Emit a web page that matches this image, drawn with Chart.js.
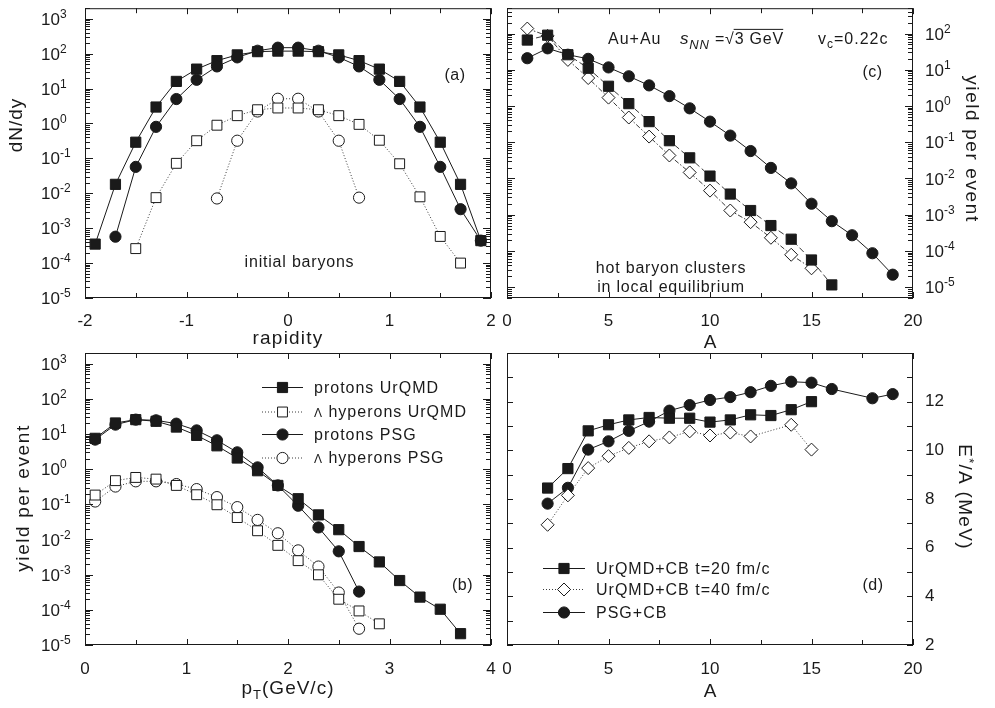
<!DOCTYPE html>
<html>
<head>
<meta charset="utf-8">
<script src="https://cdn.jsdelivr.net/npm/chart.js@4.4.1/dist/chart.umd.min.js"></script>
<style>
html,body{margin:0;padding:0;background:#ffffff;overflow:hidden;}
#wrap{position:relative;width:995px;height:708px;background:#fff;}
#wrap canvas{position:absolute;left:0;top:0;}
</style>
</head>
<body>
<div id="wrap">
<canvas id="pa" width="995" height="708"></canvas>
<canvas id="pc" width="995" height="708"></canvas>
<canvas id="pb" width="995" height="708"></canvas>
<canvas id="pd" width="995" height="708"></canvas>
</div>
<script>
// ---------------- data ----------------
// panel (a): dN/dy vs rapidity
const rapidity = [-1.9,-1.7,-1.5,-1.3,-1.1,-0.9,-0.7,-0.5,-0.3,-0.1,0.1,0.3,0.5,0.7,0.9,1.1,1.3,1.5,1.7,1.9];
const dndyProtonsUrQMD = [3.5e-4,0.018,0.29,2.95,16,36,63,92,114,118,118,114,92,63,36,16,2.95,0.29,0.018,4.4e-4];
const dndyLambdaUrQMD  = [null,null,2.6e-4,7.5e-3,0.072,0.32,0.89,1.67,2.47,2.77,2.77,2.47,1.67,0.94,0.33,0.07,7.9e-3,5.8e-4,1.0e-4,null];
const dndyProtonsPSG   = [null,5.7e-4,0.057,0.8,5,17.8,43,78,121,148,148,121,78,43,17.8,5,0.8,0.057,3.5e-3,4.4e-4];
const dndyLambdaPSG    = [null,null,null,null,null,null,7.1e-3,0.32,2.2,5.1,5.1,2.2,0.32,7.5e-3,null,null,null,null,null,null];

// panel (b): yield per event vs pT
const pt = [0.1,0.3,0.5,0.7,0.9,1.1,1.3,1.5,1.7,1.9,2.1,2.3,2.5,2.7,2.9,3.1,3.3,3.5,3.7];
const ptProtonsUrQMD = [7.5,20.5,25.5,22.9,15.7,9.1,4.6,2.07,0.9,0.344,0.144,0.05,0.019,6.3e-3,2.3e-3,6.8e-4,2.3e-4,1.04e-4,2.1e-5];
const ptLambdaUrQMD  = [0.183,0.47,0.58,0.52,0.344,0.187,0.097,0.042,0.0177,6.8e-3,2.5e-3,9.9e-4,2.0e-4,9.3e-5,4.0e-5,null,null,null,null];
const ptProtonsPSG   = [6.9,18.4,25.5,24.4,19.6,12.6,6.6,3.0,1.12,0.344,0.091,0.022,4.6e-3,3.3e-4,null,null,null,null,null];
const ptLambdaPSG    = [0.12,0.32,0.45,0.45,0.376,0.27,0.16,0.083,0.036,0.015,4.9e-3,1.7e-3,3.1e-4,2.9e-5,null,null,null,null,null];

// panel (c): cluster yield vs A ; panel (d): E*/A vs A
const massNumber   = [1,2,3,4,5,6,7,8,9,10,11,12,13,14,15,16,17,18,19];
const yieldUrQMD20 = [66,90,26,11,3.5,1.16,0.37,0.11,0.037,0.0116,3.7e-3,1.3e-3,5.0e-4,2.1e-4,5.6e-5,1.15e-5,null,null,null];
const yieldUrQMD40 = [137,86,18.7,5.9,1.7,0.48,0.143,0.043,0.0146,4.6e-3,1.3e-3,6.2e-4,2.3e-4,7.8e-5,3.3e-5,null,null,null,null];
const yieldPSG     = [20.8,39,26,20,11.6,6.6,3.7,1.87,0.86,0.37,0.152,0.057,0.0195,7.3e-3,2.0e-3,6.6e-4,2.7e-4,8.6e-5,2.2e-5];
const excUrQMD20   = [null,8.45,9.25,10.8,11.05,11.25,11.35,11.32,11.32,11.16,11.25,11.46,11.43,11.67,12.0,null,null,null,null];
const excUrQMD40   = [null,6.94,8.15,9.27,9.76,10.1,10.37,10.53,10.78,10.61,10.73,10.57,null,11.05,10.03,null,null,null,null];
const excPSG       = [null,7.81,8.46,10.03,10.37,10.8,11.18,11.63,11.86,12.07,12.19,12.39,12.65,12.82,12.78,12.52,null,12.14,12.31];

// tick labels
const rapidityTicks = [-2,-1,0,1,2];
const ptTicks       = [0,1,2,3,4];
const massTicks     = [0,5,10,15,20];
const exciteTicks   = [2,4,6,8,10,12];
const decadesAB     = [-5,-4,-3,-2,-1,0,1,2,3];
const decadesC      = [-5,-4,-3,-2,-1,0,1,2];

// ---------------- helpers ----------------
const FONT = "'Liberation Sans', Arial, Helvetica, sans-serif";
const INK = '#1a1a1a';
const GREY = '#3a3a3a';

function toPts(xs, ys) {
  return xs.map((x, i) => ({x: x, y: ys[i]})).filter(p => p.y !== null && p.y !== undefined);
}
function segFont(s, base) {
  return (s.italic ? 'italic ' : '') + (s.size || base) + 'px ' + FONT;
}
function drawRich(ctx, segs, x, y, o) {
  const size = o.size || 17, align = o.align || 'left', rot = o.rot || 0, ls = o.ls || 0;
  ctx.save();
  ctx.translate(x, y);
  if (rot) ctx.rotate(rot);
  ctx.textAlign = 'left';
  ctx.textBaseline = 'alphabetic';
  ctx.fillStyle = INK; ctx.strokeStyle = INK;
  if ('letterSpacing' in ctx) ctx.letterSpacing = ls + 'px';
  let w = 0;
  const items = segs.map(s => { ctx.font = segFont(s, size); const m = ctx.measureText(s.t).width; w += m; return {s: s, m: m}; });
  let cx = align === 'center' ? -w / 2 : (align === 'right' ? -w : 0);
  const base = size * 0.36;
  for (const it of items) {
    ctx.font = segFont(it.s, size);
    ctx.fillText(it.s.t, cx, base + (it.s.dy || 0));
    if (it.s.over) {
      ctx.lineWidth = 1;
      ctx.beginPath();
      ctx.moveTo(cx - 1, base - size * 0.93);
      ctx.lineTo(cx + it.m - ls, base - size * 0.93);
      ctx.stroke();
    }
    cx += it.m;
  }
  ctx.restore();
}

const panelDecor = {
  id: 'panelDecor',
  afterDraw(chart, args, o) {
    const ctx = chart.ctx, a = chart.chartArea, xs = chart.scales.x, ys = chart.scales.y;
    ctx.save();
    ctx.strokeStyle = INK; ctx.lineWidth = 1;
    ctx.strokeRect(a.left + 0.5, a.top + 0.5, a.right - a.left - 1, a.bottom - a.top - 1);
    ctx.beginPath();
    // x ticks, inward on bottom and top
    const xMaj = o.xMajor[1] - o.xMajor[0];
    for (let v = xs.min; v <= xs.max + 1e-9; v += o.xMinorStep) {
      const isMaj = Math.abs(v / xMaj - Math.round(v / xMaj)) < 1e-6;
      const len = isMaj ? 6 : 5;
      const px = Math.round(xs.getPixelForValue(v)) + 0.5;
      ctx.moveTo(px, a.bottom); ctx.lineTo(px, a.bottom - len);
      ctx.moveTo(px, a.top); ctx.lineTo(px, a.top + len);
    }
    // y ticks
    if (o.yLog) {
      const e0 = Math.floor(Math.log10(ys.min)), e1 = Math.ceil(Math.log10(ys.max));
      for (let e = e0; e <= e1; e++) {
        for (let m = 1; m <= 9; m++) {
          const v = m * Math.pow(10, e);
          if (v < ys.min * 0.999 || v > ys.max * 1.001) continue;
          const py = Math.round(ys.getPixelForValue(v)) + 0.5;
          const len = m === 1 ? 8 : 5;
          ctx.moveTo(a.left, py); ctx.lineTo(a.left + len, py);
          ctx.moveTo(a.right, py); ctx.lineTo(a.right - len, py);
        }
      }
    } else {
      for (let v = ys.min; v <= ys.max + 1e-9; v += o.yMinorStep) {
        const py = Math.round(ys.getPixelForValue(v)) + 0.5;
        ctx.moveTo(a.left, py); ctx.lineTo(a.left + 6, py);
        ctx.moveTo(a.right, py); ctx.lineTo(a.right - 6, py);
      }
    }
    ctx.stroke();
    // log tick labels 10^n
    if (o.yDecades) {
      for (const e of o.yDecades) {
        const py = ys.getPixelForValue(Math.pow(10, e));
        drawRich(ctx, [{t: '10'}, {t: String(e), size: 12, dy: -7}], o.yLabelX, py, {size: 17});
      }
    }
    // free texts
    for (const t of (o.texts || [])) {
      drawRich(ctx, t.segs, t.x, t.y, t);
    }
    // legend
    if (o.legend) {
      const L = o.legend;
      for (const r of L.rows) {
        const ds = chart.data.datasets[r.ds];
        ctx.save();
        ctx.strokeStyle = ds.borderColor; ctx.lineWidth = ds.borderWidth;
        ctx.setLineDash(ds.borderDash || []);
        ctx.beginPath(); ctx.moveTo(L.x1, r.y + 0.5); ctx.lineTo(L.x2, r.y + 0.5); ctx.stroke();
        ctx.setLineDash([]);
        ctx.fillStyle = ds.pointBackgroundColor; ctx.strokeStyle = ds.pointBorderColor; ctx.lineWidth = ds.pointBorderWidth;
        Chart.helpers.drawPoint(ctx, {pointStyle: ds.pointStyle, radius: ds.pointRadius, rotation: 0, borderWidth: ds.pointBorderWidth}, L.xm, r.y + 0.5);
        ctx.restore();
        drawRich(ctx, r.segs, L.xt, r.y, {size: 16, ls: 1});
      }
    }
    ctx.restore();
  }
};

function series(label, pts, kind, line) {
  const filled = kind.filled;
  const d = {
    label: label, data: pts, tension: 0,
    borderColor: line === 'solid' ? INK : GREY,
    borderWidth: 1,
    borderDash: line === 'dot' ? [1, 2] : (line === 'dash' ? [6, 3] : (line === 'dashdot' ? [5, 2, 1.5, 2] : [])),
    pointStyle: kind.style, pointRadius: kind.r,
    pointBackgroundColor: filled ? INK : '#ffffff',
    pointBorderColor: INK, pointBorderWidth: 1,
    pointHoverRadius: kind.r, fill: false, clip: false
  };
  return d;
}
const FSQ = {style: 'rect', r: 7.2, filled: true};
const OSQ = {style: 'rect', r: 7, filled: false};
const FCI = {style: 'circle', r: 5.6, filled: true};
const OCI = {style: 'circle', r: 5.6, filled: false};
const ODI = {style: 'rectRot', r: 6.5, filled: false};

function tickFont() { return {family: FONT, size: 17}; }

function makePanel(id, area, xCfg, yCfg, datasets, decor) {
  const yRight = yCfg.position === 'right';
  const xAxisH = 45;
  const padding = {top: area.t, bottom: 708 - area.b - xAxisH, left: yRight ? area.l : 0, right: yRight ? 0 : 995 - area.r};
  const yW = yRight ? 995 - area.r : area.l;
  const x = Object.assign({type: 'linear', position: 'bottom', grid: {display: false, drawTicks: false}, border: {display: false},
    afterFit: s => { s.height = xAxisH; }}, xCfg);
  const y = Object.assign({grid: {display: false, drawTicks: false}, border: {display: false},
    afterFit: s => { s.width = yW; }}, yCfg);
  return new Chart(document.getElementById(id), {
    type: 'line',
    data: {datasets: datasets},
    options: {
      responsive: false, animation: false, events: [],
      layout: {padding: padding},
      plugins: {legend: {display: false}, tooltip: {enabled: false}, panelDecor: decor},
      scales: {x: x, y: y}
    },
    plugins: [panelDecor]
  });
}
function linTicks(arr, pad) {
  return {
    afterBuildTicks: s => { s.ticks = arr.map(v => ({value: v})); },
    ticks: {font: tickFont(), color: INK, padding: pad, maxRotation: 0, minRotation: 0, autoSkip: false}
  };
}

// ---------------- panel (a) ----------------
makePanel('pa', {l: 85, r: 491, t: 6, b: 298},
  Object.assign({min: -2, max: 2}, linTicks(rapidityTicks, 13)),
  {type: 'logarithmic', position: 'left', min: 1e-5, max: 2000, ticks: {display: false}},
  [
    series('protons PSG', toPts(rapidity, dndyProtonsPSG), FCI, 'solid'),
    series('protons UrQMD', toPts(rapidity, dndyProtonsUrQMD), FSQ, 'solid'),
    series('Λ hyperons UrQMD', toPts(rapidity, dndyLambdaUrQMD), OSQ, 'dot'),
    series('Λ hyperons PSG', toPts(rapidity, dndyLambdaPSG), OCI, 'dot')
  ],
  {
    xMajor: rapidityTicks, xMinorStep: 0.5, yLog: true, yDecades: decadesAB, yLabelX: 41,
    texts: [
      {segs: [{t: '(a)'}], x: 455, y: 74, size: 16, align: 'center', ls: 0.5},
      {segs: [{t: 'initial baryons'}], x: 299.5, y: 261, size: 16, align: 'center', ls: 0.8},
      {segs: [{t: 'rapidity'}], x: 288, y: 337, size: 19, align: 'center', ls: 1.2},
      {segs: [{t: 'dN/dy'}], x: 15, y: 125, size: 19, align: 'center', ls: 1, rot: -Math.PI / 2}
    ]
  });

// ---------------- panel (c) ----------------
makePanel('pc', {l: 507, r: 913, t: 6, b: 298},
  Object.assign({min: 0, max: 20}, linTicks(massTicks, 13)),
  {type: 'logarithmic', position: 'right', min: 5e-6, max: 500, ticks: {display: false}},
  [
    series('UrQMD t=20 fm/c', toPts(massNumber, yieldUrQMD20), FSQ, 'dash'),
    series('UrQMD t=40 fm/c', toPts(massNumber, yieldUrQMD40), ODI, 'dashdot'),
    series('PSG', toPts(massNumber, yieldPSG), FCI, 'solid')
  ],
  {
    xMajor: massTicks, xMinorStep: 2.5, yLog: true, yDecades: decadesC, yLabelX: 925,
    texts: [
      {segs: [{t: 'Au+Au'}], x: 608, y: 38.5, size: 16, ls: 1},
      {segs: [{t: 's', italic: true, size: 17}, {t: 'NN', italic: true, size: 13, dy: 5}, {t: ' ='}, {t: '√'}, {t: '3 GeV', over: true}], x: 680, y: 38.5, size: 16, ls: 0.8},
      {segs: [{t: 'v'}, {t: 'c', size: 12, dy: 4}, {t: '=0.22c'}], x: 818, y: 38.5, size: 16, ls: 1},
      {segs: [{t: '(c)'}], x: 872.5, y: 71, size: 16, align: 'center', ls: 0.5},
      {segs: [{t: 'hot baryon clusters'}], x: 671, y: 267.5, size: 16, align: 'center', ls: 0.8},
      {segs: [{t: 'in local equilibrium'}], x: 671, y: 286, size: 16, align: 'center', ls: 0.8},
      {segs: [{t: 'A'}], x: 710, y: 341, size: 19, align: 'center'},
      {segs: [{t: 'yield per event'}], x: 973, y: 149, size: 19, align: 'center', ls: 1.6, rot: Math.PI / 2}
    ]
  });

// ---------------- panel (b) ----------------
makePanel('pb', {l: 85, r: 491, t: 353, b: 645},
  Object.assign({min: 0, max: 4}, linTicks(ptTicks, 14)),
  {type: 'logarithmic', position: 'left', min: 1e-5, max: 2000, ticks: {display: false}},
  [
    series('protons UrQMD', toPts(pt, ptProtonsUrQMD), FSQ, 'solid'),
    series('Λ hyperons UrQMD', toPts(pt, ptLambdaUrQMD), OSQ, 'dot'),
    series('protons PSG', toPts(pt, ptProtonsPSG), FCI, 'solid'),
    series('Λ hyperons PSG', toPts(pt, ptLambdaPSG), OCI, 'dot')
  ],
  {
    xMajor: ptTicks, xMinorStep: 0.5, yLog: true, yDecades: decadesAB, yLabelX: 41,
    texts: [
      {segs: [{t: '(b)'}], x: 462.5, y: 584, size: 16, align: 'center', ls: 0.5},
      {segs: [{t: 'p'}, {t: 'T', size: 13, dy: 5}, {t: '(GeV/c)'}], x: 288, y: 687, size: 19, align: 'center', ls: 1},
      {segs: [{t: 'yield per event'}], x: 22, y: 498, size: 19, align: 'center', ls: 1.6, rot: -Math.PI / 2}
    ],
    legend: {x1: 262, x2: 303, xm: 282.5, xt: 314, rows: [
      {ds: 0, y: 387, segs: [{t: 'protons UrQMD'}]},
      {ds: 1, y: 411.5, segs: [{t: 'Λ', size: 12}, {t: ' hyperons UrQMD'}]},
      {ds: 2, y: 434, segs: [{t: 'protons PSG'}]},
      {ds: 3, y: 457.5, segs: [{t: 'Λ', size: 12}, {t: ' hyperons PSG'}]}
    ]}
  });

// ---------------- panel (d) ----------------
makePanel('pd', {l: 507, r: 913, t: 353, b: 645},
  Object.assign({min: 0, max: 20}, linTicks(massTicks, 14)),
  Object.assign({type: 'linear', position: 'right', min: 2, max: 14}, linTicks(exciteTicks, 12)),
  [
    series('UrQMD+CB t=20 fm/c', toPts(massNumber, excUrQMD20), FSQ, 'solid'),
    series('UrQMD+CB t=40 fm/c', toPts(massNumber, excUrQMD40), ODI, 'dot'),
    series('PSG+CB', toPts(massNumber, excPSG), FCI, 'solid')
  ],
  {
    xMajor: massTicks, xMinorStep: 2.5, yLog: false, yMinorStep: 1,
    texts: [
      {segs: [{t: '(d)'}], x: 873, y: 584, size: 16, align: 'center', ls: 0.5},
      {segs: [{t: 'A'}], x: 710, y: 690, size: 19, align: 'center'},
      {segs: [{t: 'E'}, {t: '*', size: 13, dy: -6}, {t: '/A (MeV)'}], x: 966, y: 497, size: 19, align: 'center', ls: 1.3, rot: Math.PI / 2}
    ],
    legend: {x1: 543, x2: 585, xm: 564, xt: 596, rows: [
      {ds: 0, y: 568, segs: [{t: 'UrQMD+CB t=20 fm/c'}]},
      {ds: 1, y: 589, segs: [{t: 'UrQMD+CB t=40 fm/c'}]},
      {ds: 2, y: 612, segs: [{t: 'PSG+CB'}]}
    ]}
  });
</script>
</body>
</html>
